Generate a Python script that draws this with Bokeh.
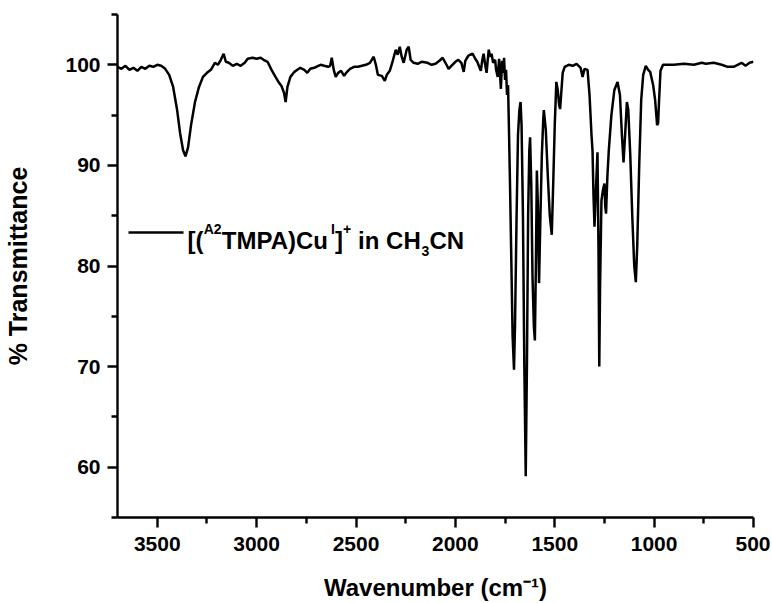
from bokeh.plotting import figure
from bokeh.models import Range1d, FixedTicker, Label, Arrow
from bokeh.embed import file_html
from bokeh.resources import INLINE

# ---- data ----
wavenumber = [
    3700, 3680, 3660, 3640, 3620, 3600, 3580, 3560, 3540, 3520, 3500, 3480, 3460, 3440,
    3420, 3400, 3385, 3370, 3358, 3345, 3330, 3310, 3290, 3270, 3250, 3230, 3210, 3195,
    3180, 3166, 3155, 3140, 3120, 3100, 3080, 3060, 3045, 3020, 3000, 2980, 2965, 2945,
    2925, 2905, 2890, 2875, 2862, 2854, 2845, 2830, 2810, 2795, 2780, 2760, 2745, 2730,
    2710, 2690, 2678, 2660, 2640, 2630, 2622, 2612, 2602, 2590, 2575, 2560, 2545, 2530,
    2510, 2490, 2470, 2450, 2430, 2411, 2400, 2390, 2370, 2355, 2345, 2330, 2315, 2300,
    2290, 2280, 2270, 2260, 2245, 2235, 2225, 2210, 2190, 2170, 2140, 2120, 2100, 2080,
    2064, 2050, 2034, 2020, 2000, 1985, 1970, 1958, 1950, 1935, 1925, 1913, 1900, 1890,
    1880, 1872, 1865, 1858, 1850, 1843, 1838, 1832, 1825, 1818, 1810, 1800, 1795, 1787,
    1780, 1775, 1771, 1765, 1760, 1755, 1750, 1745, 1740, 1735, 1731, 1725, 1718, 1712,
    1705, 1700, 1692, 1685, 1678, 1672, 1667, 1660, 1653, 1646, 1640, 1634, 1628, 1624,
    1618, 1612, 1605, 1600, 1595, 1590, 1585, 1579, 1572, 1565, 1558, 1555, 1545, 1535,
    1525, 1515, 1508, 1500, 1492, 1485, 1478, 1473, 1468, 1460, 1450, 1430, 1410, 1390,
    1370, 1360, 1350, 1335, 1325, 1315, 1310, 1305, 1300, 1293, 1285, 1280, 1276, 1272,
    1265, 1258, 1250, 1246, 1242, 1235, 1228, 1215, 1200, 1184, 1172, 1162, 1154, 1146,
    1137, 1130, 1120, 1110, 1100, 1092, 1085, 1075, 1065, 1055, 1042, 1030, 1020, 1005,
    995, 985, 980, 975, 968, 955, 900, 850, 800, 760, 740, 700, 660, 630, 600, 580, 560,
    540, 520, 500,
]
transmittance = [
    99.8, 99.6, 99.9, 99.5, 99.7, 99.4, 99.8, 99.6, 99.9, 99.8, 100.0, 99.9, 99.6, 99.0,
    97.8, 95.5, 93.2, 91.5, 90.9, 91.8, 94.0, 96.3, 97.8, 98.8, 99.2, 99.5, 100.2, 100.0,
    100.5, 101.1, 100.3, 100.2, 99.9, 100.1, 99.9, 100.2, 100.6, 100.7, 100.6, 100.7, 100.5, 100.3,
    99.5, 98.8, 98.3, 97.9, 97.2, 96.3, 97.8, 98.8, 99.3, 99.5, 99.7, 99.5, 99.2, 99.6,
    99.7, 99.9, 100.0, 99.9, 99.8, 99.9, 100.7, 99.5, 98.8, 99.2, 99.4, 98.9, 99.3, 99.6,
    99.8, 99.8, 99.9, 100.0, 100.2, 100.8, 100.0, 99.0, 98.9, 98.4, 99.0, 99.4, 100.4, 101.5,
    101.0, 101.8, 100.8, 100.2, 101.5, 101.8, 100.5, 100.2, 100.1, 100.3, 100.2, 100.0, 100.1, 100.4,
    100.7, 100.2, 99.6, 99.9, 100.3, 100.5, 100.2, 99.3, 100.4, 100.9, 101.0, 101.1, 100.6, 100.3,
    99.8, 99.4, 100.4, 101.1, 100.0, 99.2, 100.3, 101.5, 100.8, 101.1, 100.2, 100.5, 99.5, 98.8,
    100.6, 99.0, 97.6, 100.4, 99.2, 100.7, 98.5, 99.5, 97.0, 98.0, 94.2, 88.0, 80.0, 73.0,
    69.7, 74.0, 85.0, 93.0, 95.5, 96.3, 94.0, 85.0, 70.0, 59.1, 70.0, 85.0, 91.5, 92.8,
    88.0, 79.0, 74.0, 72.6, 80.0, 89.5, 86.0, 78.3, 85.0, 91.0, 94.5, 95.5, 93.5, 89.0,
    85.0, 83.1, 88.0, 94.0, 98.3, 97.5, 96.0, 95.6, 97.0, 99.2, 99.8, 100.0, 99.9, 100.1,
    99.7, 98.8, 99.6, 99.5, 97.0, 93.0, 91.5, 87.0, 83.9, 87.5, 91.3, 82.0, 70.0, 78.0,
    86.5, 87.5, 88.2, 86.0, 85.2, 89.0, 91.5, 95.0, 97.5, 98.3, 97.0, 93.0, 90.3, 93.0,
    96.3, 95.5, 91.0, 85.0, 80.0, 78.4, 82.0, 90.0, 96.5, 99.0, 99.9, 99.5, 99.3, 98.0,
    96.5, 94.0, 94.2, 96.5, 99.4, 100.0, 100.0, 100.1, 100.0, 100.2, 100.1, 100.2, 100.0, 99.8, 99.8, 100.0, 100.2,
    99.9, 100.2, 100.3,
]

x_major_ticks = [3500, 3000, 2500, 2000, 1500, 1000, 500]
x_minor_ticks = [3250, 2750, 2250, 1750, 1250, 750]
y_major_ticks = [60, 70, 80, 90, 100]
y_minor_ticks = [55, 65, 75, 85, 95, 105]

x_title = "Wavenumber (cm\u207b\u00b9)"
y_title = "% Transmittance"
# legend text pieces: (text, kind)
legend_pieces = [("[(", "main"), ("A2", "sup"), ("TMPA)Cu", "main"), ("I", "sup"),
                 ("]", "main"), ("+", "sup"), (" in CH", "main"), ("3", "sub"), ("CN", "main")]

FONT = "Liberation Sans"

W, H = 770, 603
FRAME_L, FRAME_R, FRAME_T, FRAME_B = 117, 753, 14, 517

p = figure(width=W, height=H, output_backend="svg", toolbar_location=None,
           x_range=Range1d(3700, 500), y_range=Range1d(55, 105),
           min_border_left=FRAME_L, min_border_right=W - FRAME_R,
           min_border_top=FRAME_T, min_border_bottom=H - FRAME_B)
p.outline_line_color = None
p.background_fill_color = "white"
p.border_fill_color = "white"
p.xgrid.visible = False
p.ygrid.visible = False

p.line(wavenumber, transmittance, line_color="black", line_width=2.5)

for ax in (p.xaxis[0], p.yaxis[0]):
    ax.axis_line_width = 2.4
    ax.major_tick_line_width = 2.4
    ax.minor_tick_line_width = 2.4
    ax.major_tick_in = 0
    ax.minor_tick_in = 0
    ax.major_tick_out = 10
    ax.minor_tick_out = 6
    ax.major_label_text_font = FONT
    ax.major_label_text_font_style = "bold"
    ax.major_label_text_font_size = "21px"
    ax.major_label_text_color = "black"
    ax.axis_label_text_font = FONT
    ax.axis_label_text_font_style = "bold"
    ax.axis_label_text_color = "black"

p.xaxis[0].ticker = FixedTicker(ticks=x_major_ticks, minor_ticks=x_minor_ticks)
p.yaxis[0].ticker = FixedTicker(ticks=y_major_ticks, minor_ticks=y_minor_ticks)
p.xaxis[0].major_label_standoff = 9
p.yaxis[0].major_label_standoff = 7
p.xaxis[0].axis_label = x_title
p.yaxis[0].axis_label = y_title
p.xaxis[0].axis_label_text_font_size = "24px"
p.yaxis[0].axis_label_text_font_size = "25px"
p.xaxis[0].axis_label_standoff = 20
p.yaxis[0].axis_label_standoff = 30

widths = {'[': 0.333, '(': 0.333, 'A': 0.722, '2': 0.556, 'T': 0.611, 'M': 0.833, 'P': 0.667,
          ')': 0.333, 'C': 0.722, 'u': 0.611, 'I': 0.278, ']': 0.333, '+': 0.584, ' ': 0.278,
          'i': 0.278, 'n': 0.611, 'H': 0.722, '3': 0.556, 'N': 0.722}


def rich_text(pieces, x0, x1, sizes, base):
    """Place text pieces left to right between image x0 and x1 (screen units)."""
    total = sum(sum(widths[c] for c in t) * sizes[k] for t, k in pieces)
    scale = (x1 - x0) / total
    xpos = float(x0)
    for t, k in pieces:
        w = sum(widths[c] for c in t) * sizes[k] * scale
        shown = t.lstrip(" ")
        off = (len(t) - len(shown)) * widths[' '] * sizes[k] * scale
        p.add_layout(Label(x=xpos + off - FRAME_L, y=FRAME_B - base[k],
                           x_units="screen", y_units="screen",
                           text=shown, text_font=FONT, text_font_style="bold",
                           text_font_size=f"{sizes[k]}px", text_color="black",
                           text_baseline="alphabetic", text_align="left"))
        xpos += w


# ---- legend ----
p.add_layout(Arrow(end=None, x_start=128 - FRAME_L, y_start=FRAME_B - 232,
                   x_end=183 - FRAME_L, y_end=FRAME_B - 232,
                   start_units="screen", end_units="screen",
                   line_color="black", line_width=2.5))
rich_text(legend_pieces, 187, 464, {"main": 24, "sup": 14, "sub": 14},
          {"main": 239.5, "sup": 228.5, "sub": 250.0})

open("out.html", "w").write(file_html(p, INLINE))
